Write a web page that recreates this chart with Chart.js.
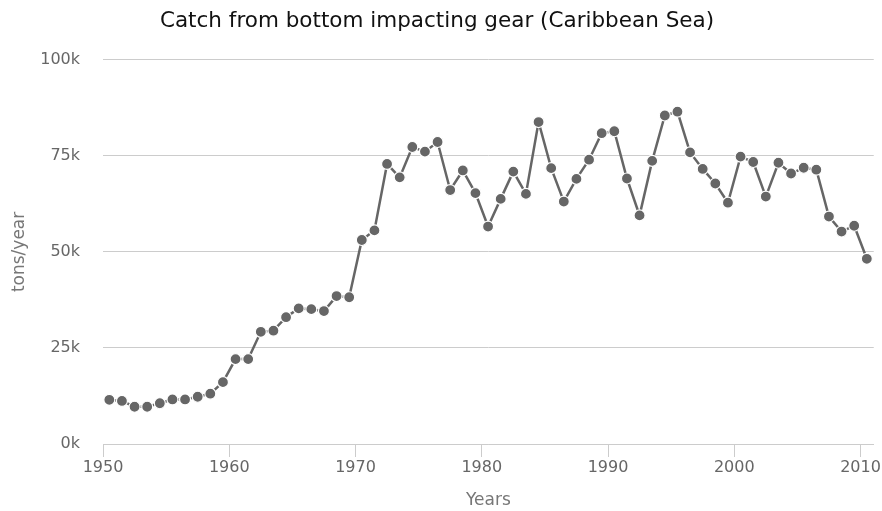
<!DOCTYPE html>
<html>
<head>
<meta charset="utf-8">
<title>Catch from bottom impacting gear (Caribbean Sea)</title>
<script src="https://cdn.jsdelivr.net/npm/chart.js@4"></script>
<style>
  html, body { margin: 0; padding: 0; background: #fff; }
  #wrap { width: 882px; height: 511px; }
</style>
</head>
<body>
<div id="wrap"><canvas id="chart" width="882" height="511"></canvas></div>
<script>
// ---------------------------------------------------------------
// data
// ---------------------------------------------------------------
const years = [
  1950, 1951, 1952, 1953, 1954, 1955, 1956, 1957, 1958, 1959,
  1960, 1961, 1962, 1963, 1964, 1965, 1966, 1967, 1968, 1969,
  1970, 1971, 1972, 1973, 1974, 1975, 1976, 1977, 1978, 1979,
  1980, 1981, 1982, 1983, 1984, 1985, 1986, 1987, 1988, 1989,
  1990, 1991, 1992, 1993, 1994, 1995, 1996, 1997, 1998, 1999,
  2000, 2001, 2002, 2003, 2004, 2005, 2006, 2007, 2008, 2009,
  2010
];

// tons / year
const catchTons = [
  11500, 11200, 9700, 9700, 10600, 11600, 11600, 12300, 13100, 16100,
  22100, 22100, 29200, 29500, 33000, 35300, 35100, 34600, 38500, 38200,
  53100, 55600, 72900, 69400, 77300, 76100, 78600, 66100, 71200, 65300,
  56600, 63800, 70900, 65100, 83800, 71800, 63100, 69000, 74000, 80900,
  81400, 69100, 59500, 73700, 85500, 86500, 75900, 71600, 67800, 62800,
  74800, 73400, 64400, 73200, 70400, 71900, 71400, 59200, 55300, 56800,
  48200
];

const xTicks = [1950, 1960, 1970, 1980, 1990, 2000, 2010];
const yTicks = [0, 25000, 50000, 75000, 100000];

// each yearly value sits in the middle of its calendar year
const points = years.map((y, i) => ({ x: y + 0.5, y: catchTons[i] }));

const FONT = "'DejaVu Sans', Verdana, sans-serif";
const GREY = "#666666";

new Chart(document.getElementById("chart"), {
  type: "line",
  data: {
    datasets: [{
      label: "Catch",
      data: points,
      borderColor: GREY,
      backgroundColor: GREY,
      borderWidth: 2.5,
      tension: 0,
      pointRadius: 5.5,
      pointHoverRadius: 6.5,
      pointBackgroundColor: GREY,
      pointBorderColor: "#ffffff",
      pointBorderWidth: 1.2,
      clip: false
    }]
  },
  options: {
    responsive: false,
    animation: false,
    layout: { padding: { left: 0, right: 8, top: 0, bottom: 0 } },
    plugins: {
      legend: { display: false },
      tooltip: { enabled: false },
      title: {
        display: true,
        text: "Catch from bottom impacting gear (Caribbean Sea)",
        color: "#111111",
        font: { family: FONT, size: 21.5, weight: "normal" },
        padding: { top: 9, bottom: 25 }
      }
    },
    scales: {
      x: {
        type: "linear",
        min: 1950,
        max: 2011.05,
        afterBuildTicks: s => { s.ticks = xTicks.map(v => ({ value: v })); },
        afterFit: s => { s.height = 67; },
        ticks: {
          color: GREY,
          font: { family: FONT, size: 16 },
          padding: 1,
          maxRotation: 0,
          callback: v => String(v)
        },
        grid: {
          drawOnChartArea: false,
          drawTicks: true,
          tickLength: 13,
          color: "#cccccc"
        },
        border: { display: true, color: "#cccccc", width: 1 },
        title: {
          display: true,
          text: "Years",
          color: "#777777",
          font: { family: FONT, size: 17 },
          padding: { top: 0, bottom: 0 }
        }
      },
      y: {
        min: 0,
        max: 100000,
        afterBuildTicks: s => { s.ticks = yTicks.map(v => ({ value: v })); },
        afterFit: s => { s.width = 103; },
        ticks: {
          color: GREY,
          font: { family: FONT, size: 16 },
          padding: 23,
          callback: v => (v / 1000) + "k"
        },
        grid: {
          drawTicks: false,
          color: "#cccccc",
          lineWidth: 1
        },
        border: { display: false },
        title: {
          display: true,
          text: "tons/year",
          color: "#777777",
          font: { family: FONT, size: 17 },
          padding: { top: 9, bottom: 0 }
        }
      }
    }
  }
});
</script>
</body>
</html>
